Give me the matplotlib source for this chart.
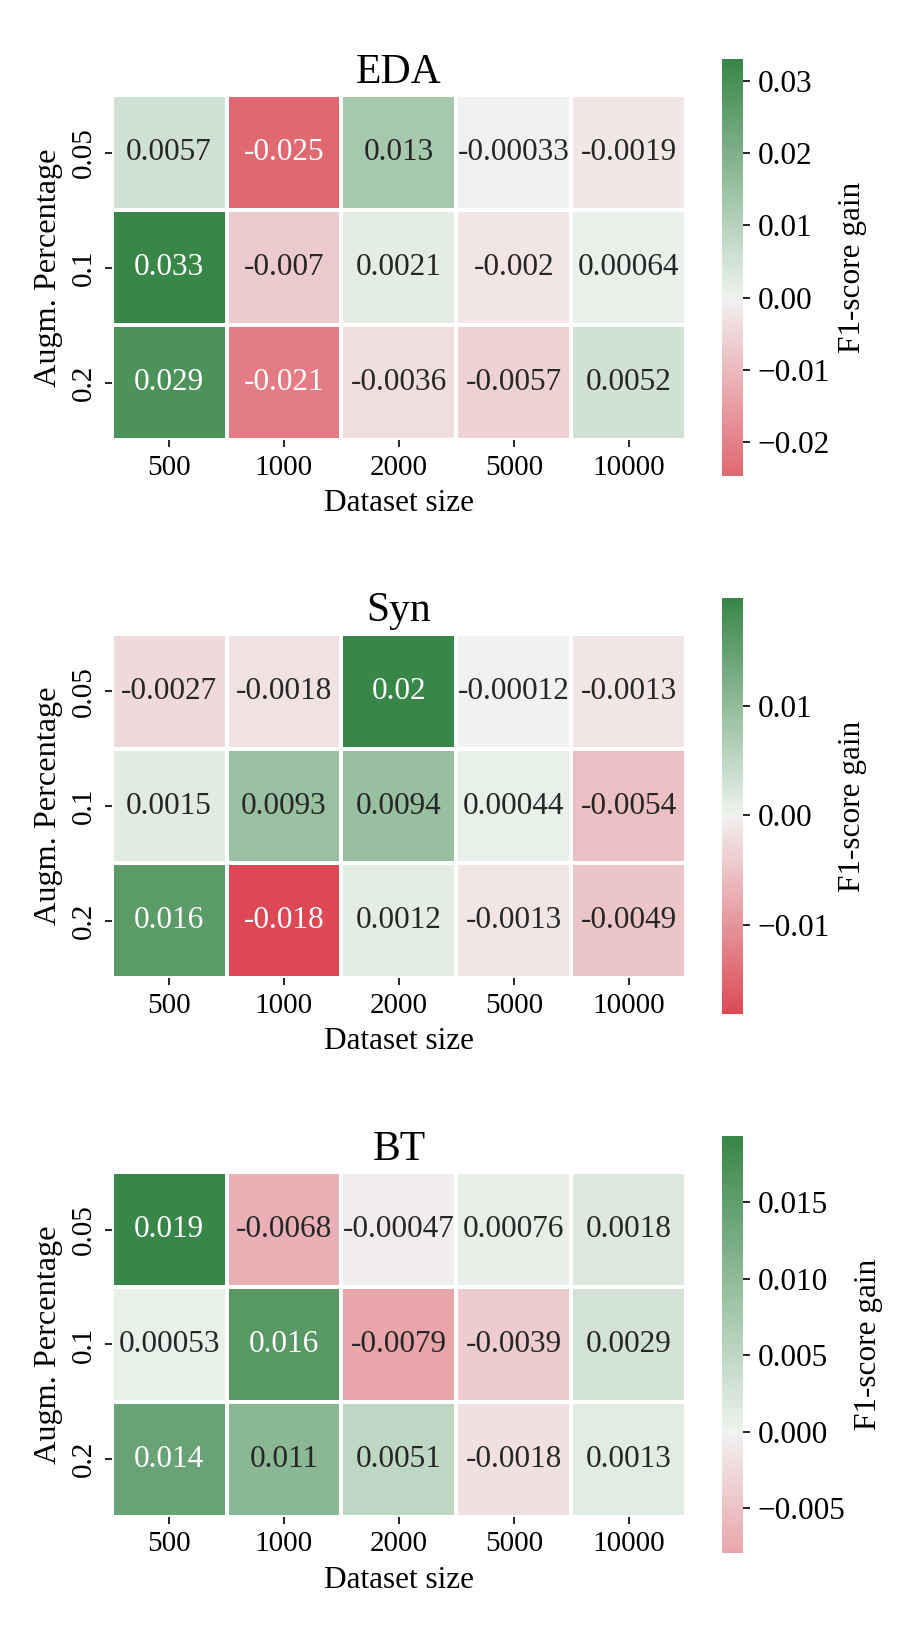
import numpy as np
import matplotlib
matplotlib.use("Agg")
import matplotlib.pyplot as plt
import seaborn as sns

sizes = [500, 1000, 2000, 5000, 10000]
percentages = ["0.05", "0.1", "0.2"]

eda = [[0.0057, -0.0247, 0.013, -0.00033, -0.0019],
       [0.033, -0.007, 0.0021, -0.002, 0.00064],
       [0.029, -0.021, -0.0036, -0.0057, 0.0052]]

syn = [[-0.0027, -0.0018, 0.0199, -0.00012, -0.0013],
       [0.0015, 0.0093, 0.0094, 0.00044, -0.0054],
       [0.016, -0.0182, 0.0012, -0.0013, -0.0049]]

bt = [[0.0193, -0.0068, -0.00047, 0.00076, 0.0018],
      [0.00053, 0.016, -0.0079, -0.0039, 0.0029],
      [0.014, 0.01052, 0.0051, -0.0018, 0.0013]]

titles = ["EDA", "Syn", "BT"]

plt.rcParams["font.family"] = ["Liberation Serif", "DejaVu Serif"]
plt.rcParams["font.size"] = 15

cmap = sns.diverging_palette(10, 133, as_cmap=True)

fig, axes = plt.subplots(3, 1, figsize=(6, 11), dpi=150)
fig.subplots_adjust(left=0.124, right=0.922, top=0.964, bottom=0.059, hspace=0.293)

for ax, data, title in zip(axes, [eda, syn, bt], titles):
    sns.heatmap(np.array(data), ax=ax, cmap=cmap, center=0, annot=True,
                square=True, linewidths=1, linecolor="white",
                xticklabels=sizes, yticklabels=percentages,
                annot_kws={"fontsize": 15},
                cbar_kws={"label": "F1-score gain"})
    ax.set_title(title, fontsize=20)
    ax.set_xlabel("Dataset size", fontsize=15)
    ax.set_ylabel("Augm. Percentage", fontsize=15.5)
    ax.tick_params(labelsize=14)
    plt.setp(ax.get_yticklabels(), rotation=90, va="center")
    cbar = ax.collections[0].colorbar
    cbar.ax.tick_params(labelsize=15)
    cbar.ax.yaxis.label.set_size(15)
    cbar.outline.set_visible(False)

fig.savefig("out.png", dpi=150)
